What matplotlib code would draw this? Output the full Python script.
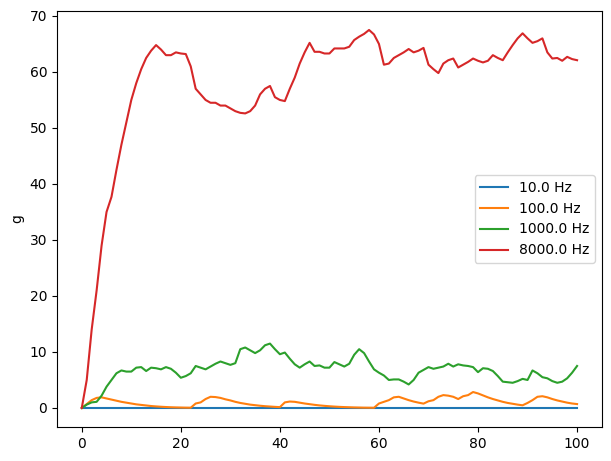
import numpy as np
import matplotlib
matplotlib.use("Agg")
import matplotlib.pyplot as plt

time = list(range(0, 101))

g_10hz = [0.0] * 101

g_100hz = [0, 0.7, 1.4, 1.8, 1.9, 1.7, 1.5, 1.3, 1.1, 0.95,
           0.8, 0.65, 0.55, 0.45, 0.35, 0.28, 0.22, 0.17, 0.13, 0.1,
           0.08, 0.06, 0.05, 0.8, 1.0, 1.6, 2.0, 1.95, 1.8, 1.55,
           1.35, 1.1, 0.9, 0.75, 0.6, 0.5, 0.4, 0.32, 0.26, 0.2,
           0.15, 1.0, 1.15, 1.1, 0.95, 0.8, 0.68, 0.56, 0.46, 0.38,
           0.31, 0.25, 0.2, 0.16, 0.13, 0.1, 0.08, 0.06, 0.05, 0.04,
           0.8, 1.1, 1.4, 1.9, 2.0, 1.7, 1.4, 1.15, 0.95, 0.78,
           1.2, 1.4, 2.0, 2.3, 2.2, 2.0, 1.6, 2.1, 2.3, 2.85,
           2.6, 2.25, 1.9, 1.6, 1.35, 1.1, 0.9, 0.75, 0.6, 0.48,
           0.9, 1.4, 2.0, 2.1, 1.9, 1.6, 1.35, 1.15, 0.95, 0.8,
           0.7]

g_1000hz = [0, 0.6, 1.0, 1.1, 2.2, 3.8, 5.0, 6.2, 6.7, 6.5,
            6.5, 7.2, 7.3, 6.6, 7.2, 7.1, 6.9, 7.3, 7.0, 6.3,
            5.4, 5.7, 6.2, 7.5, 7.2, 6.9, 7.4, 7.9, 8.3, 8.0,
            7.7, 8.0, 10.5, 10.8, 10.3, 9.8, 10.3, 11.2, 11.5, 10.5,
            9.6, 9.9, 8.8, 7.8, 7.2, 7.8, 8.3, 7.5, 7.6, 7.2,
            7.2, 8.2, 7.8, 7.4, 7.9, 9.5, 10.5, 9.8, 8.3, 6.9,
            6.3, 5.8, 5.0, 5.1, 5.1, 4.7, 4.2, 5.0, 6.3, 6.8,
            7.3, 7.0, 7.2, 7.4, 7.9, 7.4, 7.8, 7.6, 7.5, 7.3,
            6.4, 7.1, 7.0, 6.6, 5.7, 4.7, 4.6, 4.5, 4.8, 5.2,
            5.0, 6.7, 6.2, 5.5, 5.3, 4.8, 4.5, 4.7, 5.3, 6.3,
            7.5]

g_8000hz = [0, 5, 14, 21, 29, 35, 37.7, 42.5, 47, 51,
            55, 58, 60.5, 62.5, 63.8, 64.8, 64, 63, 63, 63.5,
            63.3, 63.2, 61, 57, 56, 55, 54.5, 54.5, 54, 54,
            53.5, 53, 52.7, 52.6, 53, 54, 56, 57, 57.5, 55.5,
            55, 54.8, 57, 59, 61.5, 63.5, 65.2, 63.6, 63.6, 63.3,
            63.3, 64.2, 64.2, 64.2, 64.5, 65.7, 66.3, 66.8, 67.5, 66.7,
            65, 61.3, 61.5, 62.5, 63, 63.5, 64.1, 63.5, 63.8, 64.3,
            61.3, 60.5, 59.8, 61.5, 62.1, 62.4, 60.8, 61.3, 61.8, 62.4,
            62, 61.7, 62, 63, 62.5, 62.1, 63.5, 64.8, 66, 66.9,
            66, 65.2, 65.5, 66, 63.5, 62.4, 62.5, 62, 62.7, 62.3,
            62.1]

labels = ["10.0 Hz", "100.0 Hz", "1000.0 Hz", "8000.0 Hz"]
series = [g_10hz, g_100hz, g_1000hz, g_8000hz]

fig = plt.figure(figsize=(6.11, 4.61), dpi=100)
ax = fig.add_subplot(111)
fig.subplots_adjust(left=0.0933, right=0.985, top=0.976, bottom=0.074)

for lab, s in zip(labels, series):
    ax.plot(time, s, label=lab)

ax.set_ylabel("g")
ax.legend(loc="center right")

fig.savefig("out.png", dpi=100)
